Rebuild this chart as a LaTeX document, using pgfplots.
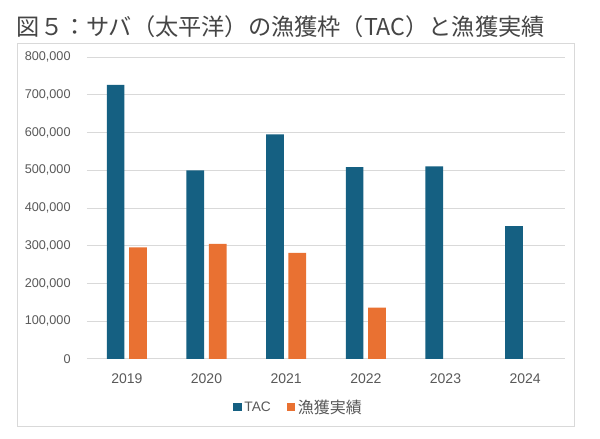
\documentclass[border=0pt]{standalone}
\usepackage{fontspec}
\setmainfont{Liberation Sans}
\newfontfamily\cjk{Noto Sans CJK JP}
\usepackage{pgfplots}
\pgfplotsset{compat=1.18}
\definecolor{tacblue}{HTML}{156082}
\definecolor{catchorange}{HTML}{E97132}
\definecolor{gridgray}{HTML}{D9D9D9}
\definecolor{labelgray}{HTML}{595959}
\definecolor{titlegray}{HTML}{454545}
\begin{document}
\begin{tikzpicture}
\useasboundingbox (0,0) rectangle (450pt,329.25pt);
\fill[white] (0,0) rectangle (450pt,329.25pt);
\draw[gridgray, line width=0.75pt] (12.75pt,9pt) rectangle (430.5pt,296.6pt);
\node[anchor=west, inner sep=0pt, text=titlegray, font=\cjk\fontsize{17.4pt}{20pt}\selectfont] at (12.5pt,309pt) {図５：サバ（太平洋）の漁獲枠（TAC）と漁獲実績};
\begin{axis}[
  at={(65.25pt,60pt)}, anchor=south west,
  scale only axis, width=358.5pt, height=226.5pt,
  xmin=-0.5, xmax=5.5, ymin=0, ymax=800000,
  ybar=3.5pt, bar width=13.3pt,
  xtick={0,1,2,3,4,5},
  xticklabels={2019,2020,2021,2022,2023,2024},
  ytick={0,100000,200000,300000,400000,500000,600000,700000,800000},
  axis line style={draw=none},
  major tick length=0pt,
  ymajorgrids,
  major grid style={draw=gridgray, line width=0.75pt},
  scaled y ticks=false,
  /pgf/number format/fixed,
  /pgf/number format/precision=0,
  /pgf/number format/1000 sep={,},
  /pgf/number format/assume math mode=true,
  yticklabel style={font=\fontsize{9.5pt}{11pt}\selectfont, text=labelgray, xshift=-8.8pt},
  xticklabel style={font=\fontsize{10.5pt}{12pt}\selectfont, text=labelgray, yshift=-7.5pt},
  legend style={at={(0.4435,-0.162)}, anchor=center, draw=none, fill=none,
    legend columns=2, font=\fontsize{10.3pt}{12pt}\selectfont, text=labelgray,
    /tikz/every even column/.append style={column sep=10pt}},
]
\addplot[fill=tacblue, draw=none,
  legend image code/.code={\fill[tacblue] (0pt,-2.2pt) rectangle (6.2pt,4pt);}]
  coordinates {(0,726000) (1,500000) (2,595000) (3,508000) (4,510000) (5,352000)};
\addplot[fill=catchorange, draw=none,
  legend image code/.code={\fill[catchorange] (0pt,-2.2pt) rectangle (6.2pt,4pt);}]
  coordinates {(0,296000) (1,305000) (2,281000) (3,136000)};
\legend{TAC, {\cjk\fontsize{12pt}{14pt}\selectfont 漁獲実績}}
\end{axis}
\end{tikzpicture}
\end{document}
